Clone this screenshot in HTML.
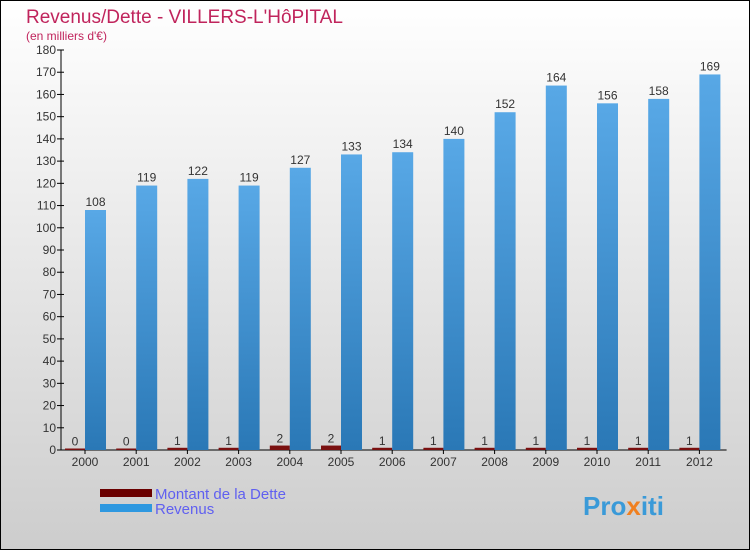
<!DOCTYPE html>
<html><head><meta charset="utf-8"><style>
body{margin:0}
#c{width:750px;height:550px;position:relative;font-family:"Liberation Sans",sans-serif}
</style></head><body>
<div id="c">
<svg width="750" height="550" id="svg">
<defs>
<linearGradient id="bg" x1="0" y1="0" x2="0" y2="1"><stop offset="0" stop-color="#ffffff"/><stop offset="1" stop-color="#cdcdcd"/></linearGradient>
<linearGradient id="bl" x1="0" y1="0" x2="0" y2="1"><stop offset="0" stop-color="#58a8e6"/><stop offset="1" stop-color="#2a78b6"/></linearGradient>
</defs>
<rect x="0.5" y="0.5" width="749" height="549" fill="url(#bg)" stroke="#000"/>
<text x="26" y="23" font-size="19" fill="#c0245c">Revenus/Dette - VILLERS-L'HôPITAL</text>
<text x="26" y="40" font-size="12" fill="#c0245c">(en milliers d'€)</text>
<g id="axes"></g>
<g id="bars"></g>
<rect x="100" y="489" width="52" height="8" fill="#6a0000"/>
<rect x="100" y="504" width="52" height="8" fill="#2e98e0"/>
<text x="155" y="499" font-size="15" fill="#6060f0">Montant de la Dette</text>
<text x="155" y="514" font-size="15" fill="#6060f0">Revenus</text>
<text x="583" y="515" font-size="26" font-weight="bold" fill="#3a9ad8">Pro<tspan fill="#f08020">x</tspan>iti</text>
</svg>
</div>
<script>
const years=["2000","2001","2002","2003","2004","2005","2006","2007","2008","2009","2010","2011","2012"];
const dette=[0,0,1,1,2,2,1,1,1,1,1,1,1];
const revenus=[108,119,122,119,127,133,134,140,152,164,156,158,169];
const yTicks=[0,10,20,30,40,50,60,70,80,90,100,110,120,130,140,150,160,170,180];
const NS="http://www.w3.org/2000/svg";
const x0=61,gw=51.2,y0=450,ymax=180,ph=400;
const Y=v=>y0-v/ymax*ph;
function mk(t,a,p){const e=document.createElementNS(NS,t);for(const k in a)e.setAttribute(k,a[k]);p.appendChild(e);return e;}
const ax=document.getElementById('axes'),bs=document.getElementById('bars');
let l=mk('line',{x1:x0,y1:Y(180),x2:x0,y2:y0,stroke:'#000'},ax);


l=mk('line',{x1:x0,y1:y0,x2:x0+gw*13,y2:y0,stroke:'#000'},ax);


yTicks.forEach(v=>{
 mk('line',{x1:x0-4,y1:Y(v),x2:x0+3,y2:Y(v),stroke:'#000'},ax);
 const t=mk('text',{x:x0-5,y:Y(v)+4,'font-size':12,'text-anchor':'end',fill:'#333'},ax);
 t.textContent=v;
 
 
});
years.forEach((yr,i)=>{
 const gx=x0+i*gw;
 mk('line',{x1:gx+24,y1:y0,x2:gx+24,y2:y0+4,stroke:'#000'},ax);
 const t=mk('text',{x:gx+24,y:y0+16,'font-size':12,'text-anchor':'middle',fill:'#333'},ax);
 t.textContent=yr;
 
 
 const dh=Math.max(y0-Y(dette[i]),1.5);
 const d=mk('rect',{x:gx+4,y:y0-dh,width:20,height:dh,fill:'#7a1010'},bs);
 
 
 const dl=mk('text',{x:gx+14,y:y0-dh-3,'font-size':12,'text-anchor':'middle',fill:'#333'},bs);
 dl.textContent=dette[i];
 
 
 const r=mk('rect',{x:gx+24,y:Y(revenus[i]),width:21,height:y0-Y(revenus[i]),fill:'url(#bl)'},bs);
 
 
 const rl=mk('text',{x:gx+34.5,y:Y(revenus[i])-4,'font-size':12,'text-anchor':'middle',fill:'#333'},bs);
 rl.textContent=revenus[i];
 
 
});
</script>
</body></html>
